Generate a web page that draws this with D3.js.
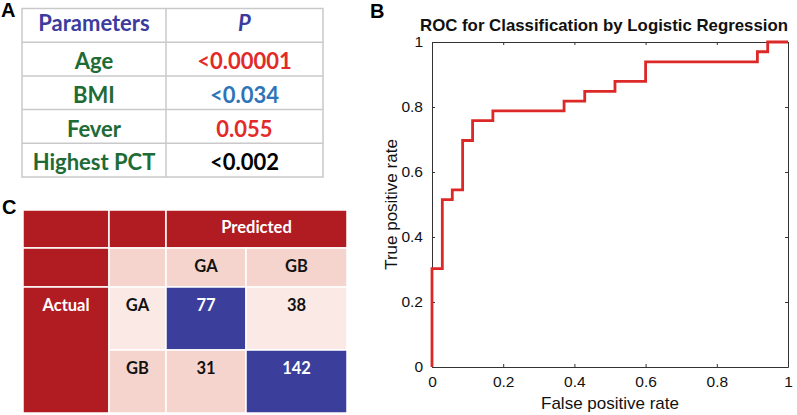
<!DOCTYPE html>
<html><head><meta charset="utf-8">
<script src="https://cdn.jsdelivr.net/npm/d3@7"></script>
<style>body{margin:0;background:#fff}svg{display:block}</style>
</head><body>
<svg id="c" width="797" height="415"></svg>
<script>
// ---- Panel A data ----
const paramNames = ["Age", "BMI", "Fever", "Highest PCT"];
const pValues = ["<0.00001", "<0.034", "0.055", "<0.002"];
const pColors = ["#e32a2a", "#2e74b8", "#e32a2a", "#000000"];

// ---- Panel C data ----
const classes = ["GA", "GB"];
const confusion = [[77, 38], [31, 142]]; // rows: actual, cols: predicted

// ---- Panel B data (ROC step points) ----
const fpr = [0, 0, 0.029, 0.057, 0.086, 0.114, 0.171, 0.371, 0.429, 0.514, 0.600, 0.914, 0.943, 1];
const tpr = [0, 0.303, 0.515, 0.545, 0.697, 0.758, 0.788, 0.818, 0.848, 0.879, 0.939, 0.970, 1, 1];
const axisTicks = [0, 0.2, 0.4, 0.6, 0.8, 1];

const svg = d3.select("#c");
const tblFont = "Lato, 'Open Sans', sans-serif";
const arial = "'Liberation Sans', Arial, sans-serif";

// panel letters
[["A", 1, 17], ["B", 370, 17.5], ["C", 2, 213.5]].forEach(([t, x, y]) =>
  svg.append("text").attr("x", x).attr("y", y).text(t)
    .attr("font-family", arial).attr("font-weight", "bold").attr("font-size", 20));

// ================= Panel A =================
{
  const g = svg.append("g");
  const rows = ["__head", ...paramNames];
  const y = d3.scaleBand().domain(rows).range([8.5, 177]);
  const colX = d3.scaleOrdinal().domain(["param", "p"]).range([[22, 166], [166, 323]]);
  const lineColor = "#c9c9c9";
  g.append("rect").attr("x", 22).attr("y", 8.5).attr("width", 323 - 22).attr("height", 177 - 8.5)
    .attr("fill", "none").attr("stroke", lineColor).attr("stroke-width", 1.5);
  g.selectAll("line.r").data(rows.slice(1)).join("line")
    .attr("x1", 22).attr("x2", 323).attr("y1", d => y(d)).attr("y2", d => y(d))
    .attr("stroke", lineColor).attr("stroke-width", 1.5);
  g.append("line").attr("x1", 166).attr("x2", 166).attr("y1", 8.5).attr("y2", 177)
    .attr("stroke", lineColor).attr("stroke-width", 1.5);
  const cx = k => (colX(k)[0] + colX(k)[1]) / 2;
  g.append("text").attr("x", cx("param")).attr("y", y("__head") + 22).text("Parameters")
    .attr("text-anchor", "middle").attr("font-family", tblFont).attr("font-weight", "bold")
    .attr("font-size", 22).attr("fill", "#3b3c9e");
  g.append("text").attr("x", cx("p")).attr("y", y("__head") + 22).text("P")
    .attr("text-anchor", "middle").attr("font-family", tblFont).attr("font-weight", "bold")
    .attr("font-style", "italic").attr("font-size", 22).attr("fill", "#3b3c9e");
  paramNames.forEach((n, i) => {
    g.append("text").attr("x", cx("param")).attr("y", y(n) + 27).text(n)
      .attr("text-anchor", "middle").attr("font-family", tblFont).attr("font-weight", "bold")
      .attr("font-size", 22).attr("fill", "#1e6b36");
    g.append("text").attr("x", cx("p")).attr("y", y(n) + 27).text(pValues[i])
      .attr("text-anchor", "middle").attr("font-family", tblFont).attr("font-weight", "bold")
      .attr("font-size", 22).attr("fill", pColors[i]);
  });
}

// ================= Panel C =================
{
  const g = svg.append("g");
  const dark = "#b11c23", pink = "#f4d4cd", light = "#fbe9e5", blue = "#3b3f9b";
  const bandsX = [166, 246, 347];
  const ay = d3.scaleBand().domain(classes).range([287, 413]);
  const cells = [];
  cells.push({x0: 23, x1: 109, y0: 210, y1: 248, fill: dark});
  cells.push({x0: 109, x1: 166, y0: 210, y1: 248, fill: dark});
  cells.push({x0: 166, x1: 347, y0: 210, y1: 248, fill: dark, text: "Predicted", tc: "#fff", ty: 233});
  cells.push({x0: 23, x1: 109, y0: 248, y1: 287, fill: dark});
  cells.push({x0: 109, x1: 166, y0: 248, y1: 287, fill: pink});
  classes.forEach((c, j) => cells.push({x0: bandsX[j], x1: bandsX[j + 1], y0: 248, y1: 287, fill: pink, text: c, tc: "#111", ty: 272}));
  cells.push({x0: 23, x1: 109, y0: 287, y1: 413, fill: dark, text: "Actual", tc: "#fff", ty: 310.5});
  classes.forEach((a, i) => {
    const y0 = ay(a), y1 = ay(a) + ay.bandwidth();
    const bg = i === 0 ? light : pink;
    cells.push({x0: 109, x1: 166, y0, y1, fill: bg, text: a, tc: "#111", ty: y0 + 23.5});
    classes.forEach((p, j) => {
      const diag = i === j;
      cells.push({x0: bandsX[j], x1: bandsX[j + 1], y0, y1, fill: diag ? blue : bg,
        text: String(confusion[i][j]), tc: diag ? "#fff" : "#111", ty: y0 + 23.5});
    });
  });
  g.selectAll("rect").data(cells).join("rect")
    .attr("x", d => d.x0).attr("y", d => d.y0)
    .attr("width", d => d.x1 - d.x0).attr("height", d => d.y1 - d.y0)
    .attr("fill", d => d.fill).attr("stroke", "#fff").attr("stroke-width", 1.5);
  g.selectAll("text").data(cells.filter(d => d.text)).join("text")
    .attr("x", d => (d.x0 + d.x1) / 2).attr("y", d => d.ty).text(d => d.text)
    .attr("text-anchor", "middle").attr("font-family", tblFont).attr("font-weight", "bold")
    .attr("font-size", 16.5).attr("fill", d => d.tc);
}

// ================= Panel B =================
{
  const x = d3.scaleLinear().domain([0, 1]).range([432, 788]);
  const y = d3.scaleLinear().domain([0, 1]).range([367, 42]);
  const g = svg.append("g");
  const axCol = "#333";
  const fmt = d => d3.format("~g")(d);
  const styleAxis = sel => {
    sel.selectAll("path.domain").attr("stroke", axCol).attr("stroke-width", 1);
    sel.selectAll(".tick line").attr("stroke", axCol);
    sel.selectAll(".tick text").attr("font-family", arial).attr("font-size", 15.5).attr("fill", "#111");
  };
  g.append("g").attr("transform", `translate(0,${y(0)})`)
    .call(d3.axisBottom(x).tickValues(axisTicks).tickFormat(fmt).tickSizeInner(-3).tickSizeOuter(0).tickPadding(9))
    .call(styleAxis);
  g.append("g").attr("transform", `translate(${x(0)},0)`)
    .call(d3.axisLeft(y).tickValues(axisTicks).tickFormat(fmt).tickSizeInner(-3).tickSizeOuter(0).tickPadding(9))
    .call(styleAxis);
  g.append("g").attr("transform", `translate(0,${y(1)})`)
    .call(d3.axisTop(x).tickValues(axisTicks).tickFormat("").tickSizeInner(-3).tickSizeOuter(0))
    .call(styleAxis);
  g.append("g").attr("transform", `translate(${x(1)},0)`)
    .call(d3.axisRight(y).tickValues(axisTicks).tickFormat("").tickSizeInner(-3).tickSizeOuter(0))
    .call(styleAxis);

  const pts = fpr.map((f, i) => [f, tpr[i]]);
  const line = d3.line().x(d => x(d[0])).y(d => y(d[1])).curve(d3.curveStepAfter);
  g.append("path").datum(pts).attr("d", line)
    .attr("fill", "none").attr("stroke", "#dd2828").attr("stroke-width", 2.8);

  g.append("text").attr("x", 604).attr("y", 31).text("ROC for Classification by Logistic Regression")
    .attr("text-anchor", "middle").attr("font-family", arial).attr("font-weight", "bold")
    .attr("font-size", 16.6).attr("textLength", 368).attr("lengthAdjust", "spacingAndGlyphs")
    .attr("fill", "#111");
  g.append("text").attr("x", (x(0) + x(1)) / 2).attr("y", 409).text("False positive rate")
    .attr("text-anchor", "middle").attr("font-family", arial).attr("font-size", 17).attr("fill", "#111");
  g.append("text").attr("transform", `translate(397,${(y(0) + y(1)) / 2}) rotate(-90)`).text("True positive rate")
    .attr("text-anchor", "middle").attr("font-family", arial).attr("font-size", 17).attr("fill", "#111");
}
</script>
</body></html>
